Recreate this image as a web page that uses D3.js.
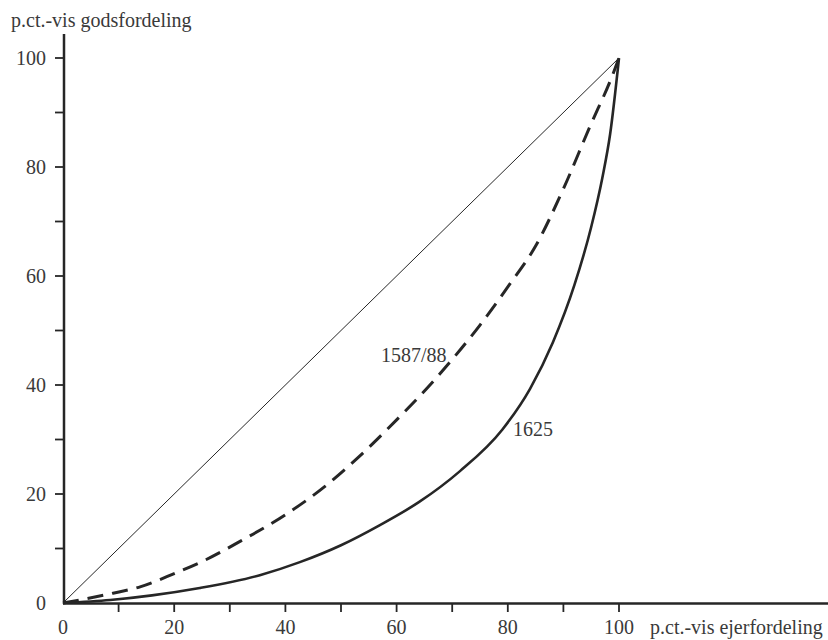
<!DOCTYPE html>
<html>
<head>
<meta charset="utf-8">
<script src="https://cdn.jsdelivr.net/npm/d3@7"></script>
<style>
html,body{margin:0;padding:0;background:#fff;}
svg{display:block;}
text{font-family:"Liberation Serif","DejaVu Serif",serif;fill:#3a3a3a;}
</style>
</head>
<body>
<svg id="chart" width="828" height="640"></svg>
<script>
// Data (percent of owners vs percent of land)
const xTicksMajor = [0, 20, 40, 60, 80, 100];
const xTicksMinor = [10, 30, 50, 70, 90];
const yTicksMajor = [0, 20, 40, 60, 80, 100];
const yTicksMinor = [10, 30, 50, 70, 90];

const equalityX = [0, 100];
const equalityY = [0, 100];

const owners1588 = [0, 9, 14, 20, 25, 32, 40, 47, 53.4, 60, 66, 70.1, 75, 80, 85, 90, 94.8, 98.7, 100];
const land1588   = [0, 1.8, 3, 5.4, 7.6, 11.4, 16.2, 21.3, 27, 33.6, 40, 44.8, 51, 58, 65.5, 76, 87.5, 96.5, 100];

const owners1625 = [0, 8.5, 16, 24.6, 35.4, 42.6, 50, 57, 64, 71.4, 79, 84, 88.1, 92, 95, 97, 98.4, 100];
const land1625   = [0, 0.55, 1.4, 2.75, 5.1, 7.5, 10.6, 14.3, 18.5, 24.2, 31.8, 39.3, 47.8, 58.4, 69, 78, 86, 100];

const seriesLabels = ["1587/88", "1625"];
const yAxisTitle = "p.ct.-vis godsfordeling";
const xAxisTitle = "p.ct.-vis ejerfordeling";

const svg = d3.select("#chart");
const x = d3.scaleLinear().domain([0, 100]).range([63, 619]);
const y = d3.scaleLinear().domain([0, 100]).range([603, 58]);
const ink = "#262626";
const fs = 20;

// axes lines
svg.append("line").attr("x1", 63).attr("x2", 828).attr("y1", 603.5).attr("y2", 603.5)
  .attr("stroke", ink).attr("stroke-width", 2.5);
svg.append("line").attr("x1", 64).attr("x2", 64).attr("y1", 34).attr("y2", 604)
  .attr("stroke", ink).attr("stroke-width", 2.5);

// x ticks
const xt = xTicksMajor.concat(xTicksMinor).filter(d => d > 0);
svg.selectAll(".xt").data(xt).enter().append("line")
  .attr("x1", d => x(d)).attr("x2", d => x(d)).attr("y1", 603).attr("y2", 612)
  .attr("stroke", ink).attr("stroke-width", 1.8);
svg.selectAll(".xl").data(xTicksMajor).enter().append("text")
  .attr("x", d => x(d)).attr("y", 634).attr("text-anchor", "middle")
  .attr("font-size", fs).text(d => d);

// y ticks
const yt = yTicksMajor.concat(yTicksMinor).filter(d => d > 0);
svg.selectAll(".yt").data(yt).enter().append("line")
  .attr("x1", 55).attr("x2", 64).attr("y1", d => y(d)).attr("y2", d => y(d))
  .attr("stroke", ink).attr("stroke-width", 1.8);
svg.selectAll(".yl").data(yTicksMajor).enter().append("text")
  .attr("x", 46).attr("y", d => y(d) + 6.5).attr("text-anchor", "end")
  .attr("font-size", fs).text(d => d);

// titles
svg.append("text").attr("x", 11).attr("y", 27).attr("font-size", fs).text(yAxisTitle);
svg.append("text").attr("x", 650).attr("y", 634).attr("font-size", fs).text(xAxisTitle);

// lines
const line = d3.line().x(d => x(d[0])).y(d => y(d[1])).curve(d3.curveMonotoneX);
svg.append("path").datum(d3.zip(equalityX, equalityY)).attr("d", d3.line().x(d => x(d[0])).y(d => y(d[1])))
  .attr("fill", "none").attr("stroke", ink).attr("stroke-width", 1);
svg.append("path").datum(d3.zip(owners1588, land1588)).attr("d", line)
  .attr("fill", "none").attr("stroke", ink).attr("stroke-width", 3)
  .attr("stroke-dasharray", "16,9");
svg.append("path").datum(d3.zip(owners1625, land1625)).attr("d", line)
  .attr("fill", "none").attr("stroke", ink).attr("stroke-width", 2.6);

// series labels
svg.append("text").attr("x", 381).attr("y", 362).attr("font-size", fs).text(seriesLabels[0]);
svg.append("text").attr("x", 513).attr("y", 436).attr("font-size", fs).text(seriesLabels[1]);
</script>
</body>
</html>
